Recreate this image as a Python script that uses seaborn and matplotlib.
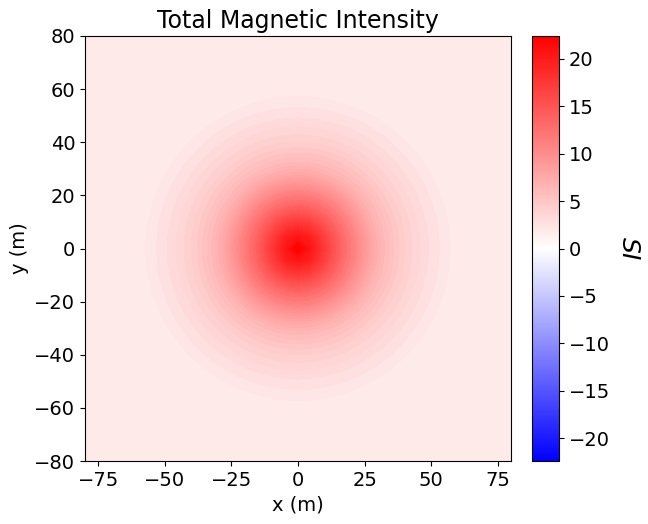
import numpy as np
import matplotlib
matplotlib.use("Agg")
import matplotlib.pyplot as plt
import seaborn as sns

# radial profile of the anomaly (distance from centre in m, field value)
radius_m = [0, 5, 10, 15, 20, 25, 30, 35, 40, 45, 50, 55, 60, 120]
field_si = [22.4, 20.3, 17.2, 14.2, 11.5, 9.0, 6.8, 5.4, 4.3, 3.5, 2.8, 2.3, 1.7, 1.6]

x_ticks = [-75, -50, -25, 0, 25, 50, 75]
y_ticks = [-80, -60, -40, -20, 0, 20, 40, 60, 80]
cbar_ticks = [-20, -15, -10, -5, 0, 5, 10, 15, 20]

sns.set_style("ticks")
plt.rcParams["font.family"] = ["DejaVu Sans"]
plt.rcParams["text.color"] = "black"
plt.rcParams["axes.labelcolor"] = "black"
plt.rcParams["xtick.color"] = "black"
plt.rcParams["ytick.color"] = "black"

# survey grid
xs = np.linspace(-80, 80, 41)
ys = np.linspace(-80, 80, 41)
X, Y = np.meshgrid(xs, ys)
R = np.sqrt(X**2 + Y**2)
Z = np.interp(R, radius_m, field_si)

vmax = np.abs(Z).max()
cmap = sns.color_palette("bwr", as_cmap=True)

fig = plt.figure(figsize=(6.48, 5.24), dpi=100)
ax = fig.add_axes([0.1312, 0.1202, 0.6574, 0.8111])
cax = fig.add_axes([0.821, 0.1202, 0.0417, 0.8111])

levels = np.linspace(-vmax, vmax, 100)
ax.contourf(X, Y, Z, levels=levels, cmap=cmap, vmin=-vmax, vmax=vmax)
ax.set_xlim(-80, 80)
ax.set_ylim(-80, 80)
ax.set_xticks(x_ticks)
ax.set_yticks(y_ticks)
ax.tick_params(labelsize=14, color="black")
for s in ax.spines.values():
    s.set_color("black")
ax.set_xlabel("x (m)", fontsize=14)
ax.set_ylabel("y (m)", fontsize=14)
ax.set_title("Total Magnetic Intensity", fontsize=17)

sm = plt.cm.ScalarMappable(norm=plt.Normalize(-vmax, vmax), cmap=cmap)
cb = fig.colorbar(sm, cax=cax)
cb.set_ticks(cbar_ticks)
cb.ax.tick_params(labelsize=14, color="black")
cb.outline.set_edgecolor("black")
cb.set_label("$SI$", fontsize=18, rotation=270, labelpad=22)

fig.savefig("out.png", dpi=100)
